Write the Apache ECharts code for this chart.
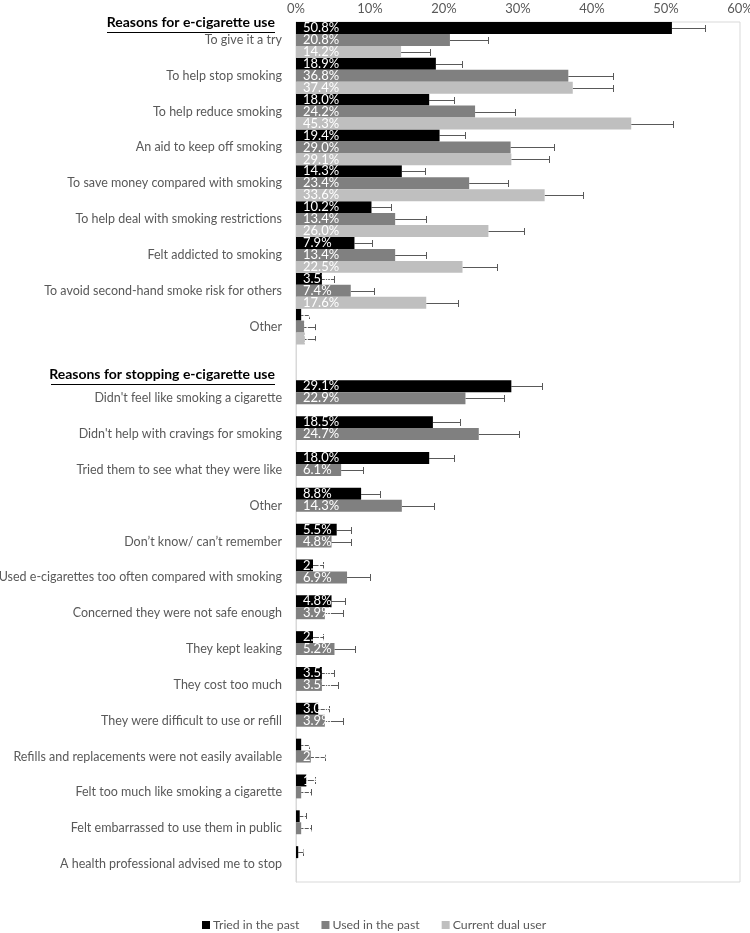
<!DOCTYPE html>
<html>
<head>
<meta charset="utf-8">
<script src="https://cdn.jsdelivr.net/npm/echarts@6/dist/echarts.min.js"></script>
<style>
html,body{margin:0;padding:0;background:#fff;}
#c{width:750px;height:933px;}
</style>
</head>
<body>
<div id="c"></div>
<script>
const categories = ['To give it a try', 'To help stop smoking', 'To help reduce smoking', 'An aid to keep off smoking', 'To save money compared with smoking', 'To help deal with smoking restrictions', 'Felt addicted to smoking', 'To avoid second-hand smoke risk for others', 'Other', '', "Didn't feel like smoking a cigarette", "Didn't help with cravings for smoking", 'Tried them to see what they were like', 'Other', 'Don\u2019t know/ can\u2019t remember', 'Used e-cigarettes too often compared with smoking', 'Concerned they were not safe enough', 'They kept leaking', 'They cost too much', 'They were difficult to use or refill', 'Refills and replacements were not easily available', 'Felt too much like smoking a cigarette', 'Felt embarrassed to use them in public', 'A health professional advised me to stop'];
const seriesNames = ['Tried in the past', 'Used in the past', 'Current dual user'];
const tried = [50.8, 18.9, 18.0, 19.4, 14.3, 10.2, 7.9, 3.5, 0.7, null, 29.1, 18.5, 18.0, 8.8, 5.5, 2.3, 4.8, 2.3, 3.5, 3.0, 0.7, 1.4, 0.5, 0.3];
const used = [20.8, 36.8, 24.2, 29.0, 23.4, 13.4, 13.4, 7.4, 1.1, null, 22.9, 24.7, 6.1, 14.3, 4.8, 6.9, 3.9, 5.2, 3.5, 3.9, 2.0, 0.7, 0.7, null];
const dual = [14.2, 37.4, 45.3, 29.1, 33.6, 26.0, 22.5, 17.6, 1.2, null, null, null, null, null, null, null, null, null, null, null, null, null, null, null];
const triedHi = [55.3, 22.4, 21.4, 22.9, 17.4, 12.8, 10.3, 5.1, 1.7, null, 33.2, 22.1, 21.4, 11.4, 7.4, 3.7, 6.6, 3.7, 5.1, 4.5, 1.7, 2.6, 1.4, 1.0];
const usedHi = [25.9, 42.9, 29.6, 34.8, 28.7, 17.6, 17.6, 10.6, 2.6, null, 28.1, 30.2, 9.0, 18.7, 7.4, 10.0, 6.3, 8.0, 5.7, 6.3, 3.9, 2.0, 2.0, null];
const dualHi = [18.1, 42.8, 51.0, 34.2, 38.8, 30.8, 27.2, 21.9, 2.6, null, null, null, null, null, null, null, null, null, null, null, null, null, null, null];
const xTicks = [0, 10, 20, 30, 40, 50, 60];

const colors = ['#000000', '#808080', '#bfbfbf'];
const FONT = 'Lato';
const values = [tried, used, dual];
const highs = [triedHi, usedHi, dualHi];

function errRender(k) {
  return function (params, api) {
    const v = api.value(0), c = api.value(1), hi = api.value(2);
    const p1 = api.coord([v, c]);
    const p2 = api.coord([hi, c]);
    const band = api.size([0, 1])[1];
    const y = Math.round(p1[1] - band / 2 + band / 3 * (k + 0.5)) + 0.5;
    const x2 = Math.round(p2[0]) + 0.5;
    const cap = 3.5;
    const st = { stroke: '#595959', lineWidth: 1 };
    return {
      type: 'group',
      children: [
        { type: 'line', shape: { x1: p1[0], y1: y, x2: x2, y2: y }, style: st },
        { type: 'line', shape: { x1: x2, y1: y - cap, x2: x2, y2: y + cap }, style: st }
      ]
    };
  };
}

const series = [];
values.forEach(function (arr, k) {
  series.push({
    name: seriesNames[k],
    type: 'bar',
    data: arr,
    barGap: '0%',
    barCategoryGap: '0%',
    itemStyle: { color: colors[k] },
    z: 3,
    label: {
      show: true,
      position: 'insideLeft',
      distance: 7,
      color: '#ffffff',
      fontFamily: FONT,
      fontSize: 13,
      formatter: function (p) { return p.value == null ? '' : p.value.toFixed(1) + '%'; }
    },
    emphasis: { disabled: true },
    animation: false
  });
});
values.forEach(function (arr, k) {
  const d = [];
  arr.forEach(function (v, i) {
    if (v != null && highs[k][i] != null) d.push([v, i, highs[k][i]]);
  });
  series.push({
    type: 'custom',
    name: seriesNames[k] + ' err',
    renderItem: errRender(k),
    data: d,
    encode: { x: [0, 2], y: 1 },
    z: 1,
    silent: true,
    animation: false
  });
});

const chart = echarts.init(document.getElementById('c'));
chart.setOption({
  backgroundColor: '#ffffff',
  animation: false,
  grid: { left: 296, right: 10, top: 22, bottom: 51, show: true, borderColor: '#d9d9d9', borderWidth: 1, containLabel: false, outerBoundsMode: 'none' },
  xAxis: {
    type: 'value', position: 'top', min: xTicks[0], max: xTicks[xTicks.length - 1], interval: 10,
    axisLine: { show: false }, axisTick: { show: false }, splitLine: { show: false },
    axisLabel: { formatter: '{value}%', color: '#595959', fontFamily: FONT, fontSize: 13, margin: 7 }
  },
  yAxis: {
    type: 'category', inverse: true, data: categories,
    axisLine: { show: true, lineStyle: { color: '#d9d9d9' } }, axisTick: { show: false },
    axisLabel: { color: '#595959', fontFamily: FONT, fontSize: 12.5, margin: 14, interval: 0 }
  },
  legend: {
    data: seriesNames, top: 914, left: 197, icon: 'rect', itemWidth: 8, itemHeight: 8, itemGap: 22,
    textStyle: { color: '#595959', fontFamily: FONT, fontSize: 12.3, padding: [0, 0, 0, -2] }, selectedMode: false
  },
  graphic: [
    { type: 'text', right: 475, top: 15, style: { text: 'Reasons for e-cigarette use', font: 'bold 14px Lato', fill: '#000' } },
    { type: 'line', shape: { x1: 107, y1: 32.5, x2: 275, y2: 32.5 }, style: { stroke: '#000', lineWidth: 1 } },
    { type: 'text', right: 475, top: 367, style: { text: 'Reasons for stopping e-cigarette use', font: 'bold 14px Lato', fill: '#000' } },
    { type: 'line', shape: { x1: 51, y1: 384.5, x2: 275, y2: 384.5 }, style: { stroke: '#000', lineWidth: 1 } }
  ],
  series: series
});
</script>
</body>
</html>
